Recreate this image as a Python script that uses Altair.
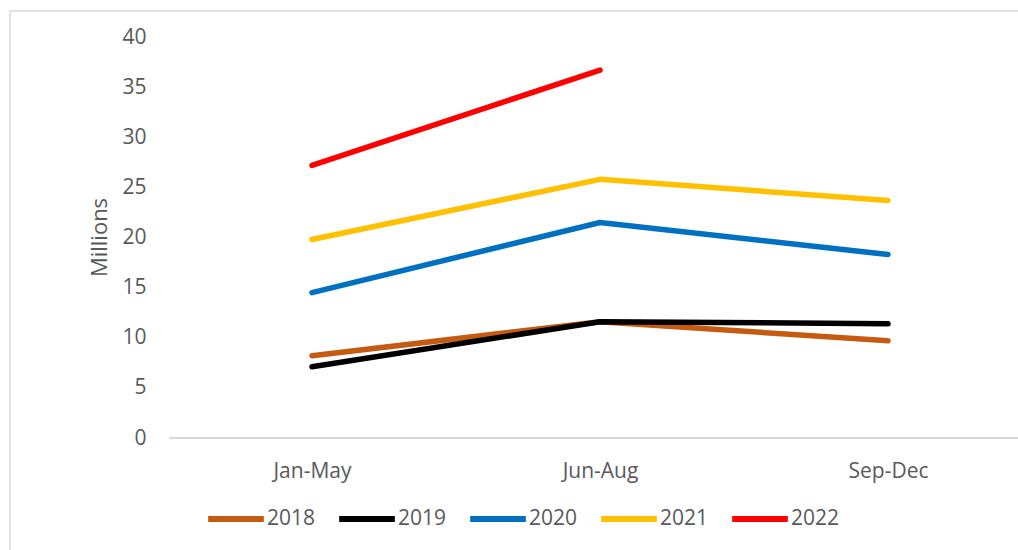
import altair as alt
import pandas as pd

periods = ["Jan-May", "Jun-Aug", "Sep-Dec"]
years = ["2018", "2019", "2020", "2021", "2022"]
v2018 = [8.2, 11.6, 9.7]
v2019 = [7.1, 11.6, 11.4]
v2020 = [14.5, 21.5, 18.3]
v2021 = [19.8, 25.8, 23.7]
v2022 = [27.2, 36.7, None]
colors = ["#C55A11", "#000000", "#0070C0", "#FFC000", "#FF0000"]
y_ticks = [0, 5, 10, 15, 20, 25, 30, 35, 40]

series = [v2018, v2019, v2020, v2021, v2022]
rows = []
for yr, vals in zip(years, series):
    for p, v in zip(periods, vals):
        if v is not None:
            rows.append({"period": p, "year": yr, "value": v})
df = pd.DataFrame(rows)

FONT = "Open Sans"
GRAY = "#595959"

W, H = 849, 401

y_scale = alt.Scale(domain=[0, 40], nice=False)
y_axis = alt.Axis(title="Millions", values=y_ticks, domain=False, ticks=False, grid=False,
                  labelFont=FONT, labelFontSize=21, labelColor=GRAY, labelPadding=23,
                  titleFont=FONT, titleFontSize=22, titleColor=GRAY, titleFontWeight="normal",
                  titleX=-70, titleY=200, titleAlign="center", titleBaseline="middle",
                  titleAngle=270)

lines = alt.Chart(df).mark_line(strokeWidth=5.5, strokeCap="round", strokeJoin="round").encode(
    x=alt.X("period:N", sort=periods,
            scale=alt.Scale(type="point", domain=periods, range=[143, 719], padding=0),
            axis=alt.Axis(title=None, domain=False, ticks=False, labelAngle=0,
                          labelFont=FONT, labelFontSize=21, labelColor=GRAY, labelPadding=22,
                          grid=False)),
    y=alt.Y("value:Q", scale=y_scale, axis=y_axis),
    color=alt.Color("year:N", sort=years,
                    scale=alt.Scale(domain=years, range=colors),
                    legend=alt.Legend(title=None, orient="none", direction="horizontal",
                                      legendX=36, legendY=451,
                                      symbolType="stroke", symbolSize=3100, symbolStrokeWidth=6,
                                      labelFont=FONT, labelFontSize=21, labelColor=GRAY,
                                      labelOffset=0, columnPadding=11)),
)

baseline = alt.Chart(pd.DataFrame({"value": [0]})).mark_rule(color="#D9D9D9", strokeWidth=2).encode(
    y=alt.Y("value:Q", scale=y_scale, axis=y_axis),
    x=alt.value(0), x2=alt.value(W),
)

border = alt.Chart(pd.DataFrame({"z": [0]})).mark_rect(fill=None, stroke="#D9D9D9", strokeWidth=1.5).encode(
    x=alt.value(-159), x2=alt.value(W + 30), y=alt.value(-26), y2=alt.value(H + 140),
)

chart = alt.layer(border, baseline, lines).properties(
    width=W, height=H,
    padding={"left": 169, "top": 37, "right": 0, "bottom": 112},
    autosize=alt.AutoSizeParams(type="none"),
    background="white",
).configure_view(strokeWidth=0, stroke="transparent")

chart.save("out.html", embed_options={"renderer": "svg", "actions": False})
